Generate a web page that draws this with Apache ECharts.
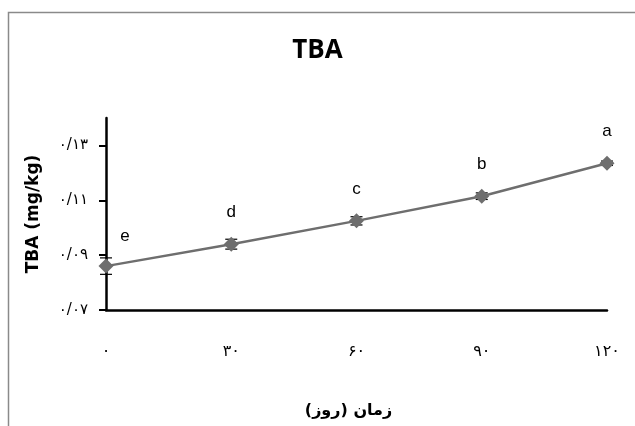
<!DOCTYPE html>
<html>
<head>
<meta charset="utf-8">
<script src="https://cdn.jsdelivr.net/npm/echarts@6/dist/echarts.min.js"></script>
<style>html,body{margin:0;padding:0;background:#fff}#c{width:635px;height:426px}</style>
</head>
<body>
<div id="c"></div>
<script>
const days = [0, 30, 60, 90, 120];
const dayLabels = ['۰', '۳۰', '۶۰', '۹۰', '۱۲۰'];
const tbaValues = [0.086, 0.094, 0.1025, 0.1115, 0.1235];
const tbaErrors = [0.003, 0.0018, 0.0015, 0.0012, 0.0008];
const groupLetters = ['e', 'd', 'c', 'b', 'a'];
const yTickValues = [0.07, 0.09, 0.11, 0.13];
const yTickLabels = ['۰/۰۷', '۰/۰۹', '۰/۱۱', '۰/۱۳'];

const chart = echarts.init(document.getElementById('c'), null, {renderer: 'canvas'});

const lineData = days.map((d, i) => {
  const item = {value: [d, tbaValues[i]], label: {formatter: groupLetters[i]}};
  if (i === 0) item.label.offset = [19, 2];
  return item;
});
const errData = days.map((d, i) => [d, tbaValues[i], tbaErrors[i]]);

chart.setOption({
  animation: false,
  graphic: [{
    type: 'rect',
    shape: {x: 8.5, y: 12.5, width: 700, height: 500},
    style: {fill: 'none', stroke: '#8a8a8a', lineWidth: 1.5},
    silent: true, z: -10
  }],
  title: {
    text: 'TBA', left: 'center', top: 33,
    textStyle: {fontFamily: 'Open Sans', fontWeight: 'bold', fontSize: 26, color: '#000'}
  },
  grid: {left: 106, right: 28, top: 118, bottom: 116, containLabel: false},
  xAxis: {
    type: 'value', min: 0, max: 120, interval: 30,
    name: 'زمان (روز)', nameLocation: 'middle', nameGap: 93,
    nameTextStyle: {fontFamily: 'DejaVu Sans', fontWeight: 'bold', fontSize: 16, color: '#000', padding: [0, 16, 0, 0]},
    axisLine: {show: true, lineStyle: {color: '#000', width: 2.5}},
    axisTick: {show: false},
    splitLine: {show: false},
    axisLabel: {
      margin: 34, fontFamily: 'DejaVu Sans', fontSize: 16, color: '#000',
      formatter: v => dayLabels[days.indexOf(v)] ?? ''
    }
  },
  yAxis: {
    type: 'value', min: 0.07, max: 0.14,
    name: 'TBA (mg/kg)', nameLocation: 'middle', nameGap: 64, nameRotate: 90,
    nameTextStyle: {fontFamily: 'DejaVu Sans', fontWeight: 'bold', fontSize: 17, color: '#000'},
    axisLine: {show: true, lineStyle: {color: '#000', width: 2.5}},
    axisTick: {show: true, length: 7, inside: false, customValues: yTickValues, lineStyle: {color: '#000', width: 2}},
    splitLine: {show: false},
    axisLabel: {
      margin: 18, fontFamily: 'DejaVu Sans', fontSize: 15, color: '#000',
      customValues: yTickValues,
      formatter: v => {
        const i = yTickValues.findIndex(t => Math.abs(t - v) < 1e-6);
        return i >= 0 ? yTickLabels[i] : '';
      }
    }
  },
  series: [
    {
      type: 'custom',
      data: errData,
      z: 1,
      renderItem: (params, api) => {
        const x = api.value(0), v = api.value(1), e = api.value(2);
        const top = api.coord([x, v + e]);
        const bot = api.coord([x, v - e]);
        const hw = 6;
        const st = {stroke: '#000', lineWidth: 1.2};
        return {
          type: 'group',
          children: [
            {type: 'line', shape: {x1: top[0], y1: top[1], x2: bot[0], y2: bot[1]}, style: st},
            {type: 'line', shape: {x1: top[0] - hw, y1: top[1], x2: top[0] + hw, y2: top[1]}, style: st},
            {type: 'line', shape: {x1: bot[0] - hw, y1: bot[1], x2: bot[0] + hw, y2: bot[1]}, style: st}
          ]
        };
      }
    },
    {
      type: 'line',
      data: lineData,
      z: 2,
      symbol: 'diamond',
      symbolSize: 15,
      lineStyle: {color: '#6e6e6e', width: 2.5},
      itemStyle: {color: '#6e6e6e'},
      label: {
        show: true, position: 'top', distance: 16,
        fontFamily: 'Liberation Sans', fontSize: 17, color: '#000'
      }
    }
  ]
});
</script>
</body>
</html>
